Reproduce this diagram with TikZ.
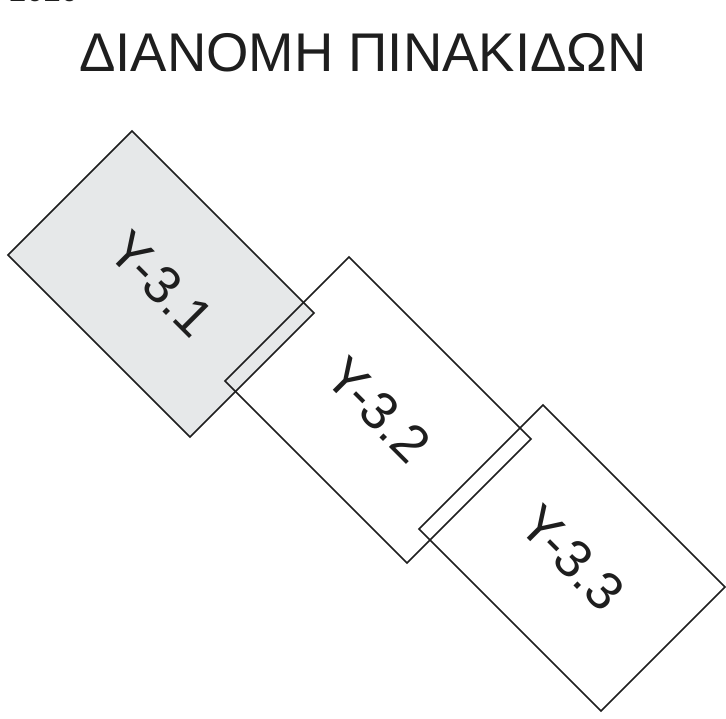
\documentclass[tikz,border=0pt]{standalone}
\usepackage{fontspec}
\setmainfont{Liberation Sans}
\definecolor{panel}{HTML}{E6E8E9}
\definecolor{ink}{HTML}{1E1E1E}
\begin{document}
\begin{tikzpicture}[x=1pt,y=-1pt,
  box/.style={draw=ink, line width=1.6pt, rotate=-45, minimum width=257.4pt, minimum height=175.4pt, inner sep=0pt, font=\fontsize{53}{60}\selectfont, text=ink},
  boxfill/.style={fill=panel, draw=none, rotate=-45, minimum width=257.4pt, minimum height=175.4pt, inner sep=0pt}]
\useasboundingbox (0,0) rectangle (726,719);
\clip (0,0) rectangle (726,719);
\fill[white] (0,0) rectangle (726,719);
\node[anchor=base west, inner sep=0pt, font=\fontsize{31}{36}\selectfont, text=ink] (yr) at (9,2) {2020};
\node[anchor=base, inner sep=0pt, font=\fontsize{54.5}{60}\selectfont, text=ink] (title) at (363,72) {ΔΙΑΝΟΜΗ ΠΙΝΑΚΙΔΩΝ};
\node[boxfill] (r1f) at (160,284) {};
\node[box] (r1) at (161,284) {Y-3.1};
\node[box] (r2) at (378,410) {Y-3.2};
\node[box] (r3) at (572,558) {Y-3.3};
\end{tikzpicture}
\end{document}
